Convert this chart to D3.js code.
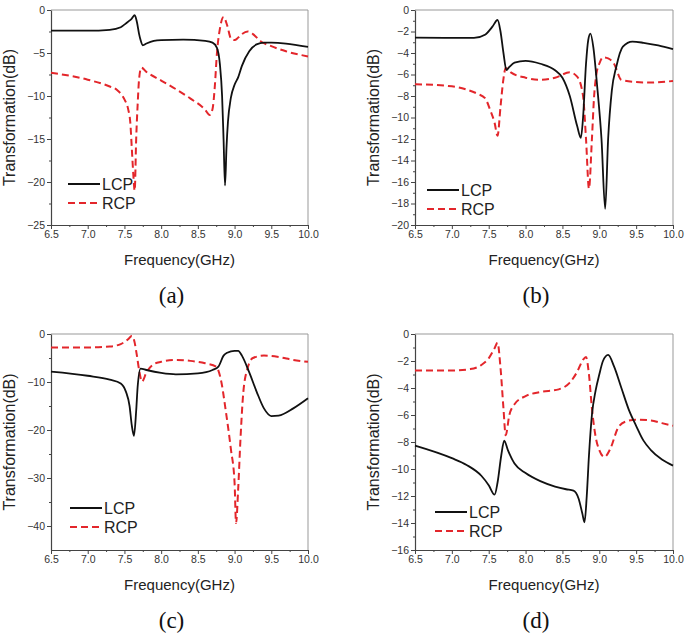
<!DOCTYPE html>
<html>
<head>
<meta charset="utf-8">
<script src="https://cdn.jsdelivr.net/npm/d3@7"></script>
<style>
  html, body { margin: 0; padding: 0; background: #fff; }
  svg { display: block; }
</style>
</head>
<body>
<svg id="chart" width="685" height="634"></svg>
<script>
// ---------- DATA ----------
const freqTicks = [6.5, 7.0, 7.5, 8.0, 8.5, 9.0, 9.5, 10.0];
const seriesNames = ["LCP", "RCP"];
const panelLabels = ["(a)", "(b)", "(c)", "(d)"];

// panel (a)
const aLCP = [[6.5,-2.4],[7.0,-2.4],[7.3,-2.3],[7.45,-2.0],[7.5,-1.7],[7.56,-1.3],[7.6,-1.0],[7.64,-0.6],[7.67,-1.4],[7.7,-2.8],[7.72,-3.5],[7.75,-4.1],[7.8,-3.9],[7.9,-3.6],[8.0,-3.5],[8.3,-3.45],[8.6,-3.6],[8.7,-3.8],[8.76,-4.4],[8.8,-6.3],[8.83,-10],[8.85,-15],[8.87,-20.4],[8.89,-16],[8.91,-13],[8.95,-10.2],[9.0,-8.7],[9.05,-7.8],[9.1,-6.5],[9.2,-4.8],[9.3,-4.0],[9.4,-3.8],[9.5,-3.8],[9.7,-3.9],[10.0,-4.3]];
const aRCP = [[6.5,-7.3],[7.0,-8.1],[7.3,-8.9],[7.4,-9.3],[7.5,-10.4],[7.55,-11.5],[7.58,-13.1],[7.6,-16],[7.62,-19],[7.64,-21],[7.66,-15],[7.68,-11],[7.7,-8],[7.73,-6.7],[7.8,-7.2],[8.0,-8.2],[8.2,-9.2],[8.4,-10.3],[8.6,-11.6],[8.66,-12.2],[8.7,-11.5],[8.73,-9],[8.76,-5],[8.8,-2.2],[8.85,-0.8],[8.9,-1.8],[8.95,-3.3],[9.0,-3.5],[9.05,-3.2],[9.1,-2.8],[9.18,-2.5],[9.25,-2.8],[9.35,-3.6],[9.5,-4.2],[9.7,-4.8],[10.0,-5.4]];

// panel (b)
const bLCP = [[6.5,-2.57],[7.0,-2.6],[7.3,-2.6],[7.45,-2.3],[7.55,-1.55],[7.62,-0.93],[7.66,-2.0],[7.7,-4.0],[7.74,-5.6],[7.78,-5.3],[7.85,-4.9],[8.0,-4.73],[8.2,-5.0],[8.4,-5.6],[8.5,-6.3],[8.6,-8.0],[8.7,-10.8],[8.75,-11.9],[8.78,-10],[8.82,-5],[8.85,-2.8],[8.88,-2.2],[8.92,-3.5],[8.97,-7],[9.03,-12],[9.08,-18.5],[9.12,-12],[9.17,-7.5],[9.23,-5.3],[9.32,-3.4],[9.45,-2.94],[9.6,-3.05],[9.8,-3.3],[10.0,-3.65]];
const bRCP = [[6.5,-6.9],[7.0,-7.1],[7.2,-7.4],[7.35,-7.8],[7.45,-8.2],[7.52,-9.3],[7.58,-10.5],[7.62,-11.7],[7.66,-9],[7.7,-6.4],[7.73,-5.4],[7.8,-5.8],[8.0,-6.3],[8.2,-6.5],[8.4,-6.3],[8.6,-5.8],[8.7,-6.2],[8.78,-8],[8.82,-12],[8.86,-16.6],[8.9,-12],[8.93,-8],[8.96,-6],[9.0,-5],[9.05,-4.4],[9.12,-4.5],[9.2,-5.0],[9.3,-6.5],[9.5,-6.7],[9.7,-6.75],[10.0,-6.6]];

// panel (c)
const cLCP = [[6.5,-7.85],[7.0,-8.7],[7.3,-9.5],[7.45,-10.3],[7.52,-12],[7.57,-15],[7.6,-19],[7.63,-21.2],[7.66,-16],[7.68,-11],[7.72,-7.2],[7.8,-7.5],[8.0,-8.1],[8.2,-8.4],[8.5,-8.2],[8.7,-7.5],[8.78,-6.8],[8.85,-4.5],[8.9,-3.9],[9.0,-3.5],[9.05,-3.5],[9.1,-4.5],[9.2,-8],[9.3,-12],[9.4,-15.5],[9.5,-17.1],[9.6,-17.0],[9.8,-15.5],[10.0,-13.4]];
const cRCP = [[6.5,-2.8],[7.0,-2.8],[7.3,-2.6],[7.45,-2.1],[7.55,-1.1],[7.6,-0.4],[7.63,-1.2],[7.67,-4.5],[7.7,-7.5],[7.74,-9.9],[7.8,-8],[7.9,-6.3],[8.0,-5.8],[8.2,-5.4],[8.4,-5.6],[8.6,-6.1],[8.75,-6.8],[8.82,-10],[8.88,-16],[8.95,-24],[9.0,-31],[9.02,-39.4],[9.05,-32],[9.08,-22],[9.12,-12],[9.18,-7],[9.25,-5],[9.4,-4.5],[9.6,-4.8],[9.8,-5.4],[10.0,-5.8]];

// panel (d)
const dLCP = [[6.5,-8.27],[7.0,-9.2],[7.2,-9.7],[7.4,-10.5],[7.5,-11.2],[7.58,-11.9],[7.62,-11],[7.67,-9],[7.71,-7.9],[7.76,-8.6],[7.85,-9.6],[8.0,-10.3],[8.2,-10.9],[8.4,-11.3],[8.55,-11.5],[8.65,-11.6],[8.72,-12.2],[8.77,-13.3],[8.8,-13.95],[8.83,-12],[8.86,-9],[8.9,-6],[8.95,-4.2],[9.0,-3],[9.05,-2],[9.12,-1.55],[9.2,-2.4],[9.3,-4],[9.4,-5.6],[9.5,-6.8],[9.6,-7.9],[9.7,-8.6],[9.85,-9.3],[10.0,-9.75]];
const dRCP = [[6.5,-2.7],[7.0,-2.7],[7.25,-2.6],[7.4,-2.3],[7.5,-1.8],[7.58,-1.05],[7.62,-0.65],[7.66,-2.5],[7.7,-5.5],[7.73,-7.5],[7.78,-6],[7.85,-5.2],[8.0,-4.6],[8.2,-4.3],[8.45,-4.1],[8.6,-3.6],[8.7,-2.8],[8.78,-1.9],[8.82,-1.7],[8.86,-3],[8.9,-5.5],[8.95,-7.6],[9.0,-8.6],[9.07,-9.1],[9.15,-8.5],[9.25,-7],[9.35,-6.5],[9.5,-6.35],[9.7,-6.4],[9.85,-6.6],[10.0,-6.8]];

const yTicksA = [0, -5, -10, -15, -20, -25];
const yTicksB = [0, -2, -4, -6, -8, -10, -12, -14, -16, -18, -20];
const yTicksC = [0, -10, -20, -30, -40];
const yTicksD = [0, -2, -4, -6, -8, -10, -12, -14, -16];

// ---------- LAYOUT ----------
const panels = [
  { lcp: aLCP, rcp: aRCP, yTicks: yTicksA, yMin: -25, minorStep: 2.5, label: panelLabels[0],
    x0: 51, x1: 308, y0: 10, y1: 225, leg: { lx0: 68, lx1: 100, ly: 184 } },
  { lcp: bLCP, rcp: bRCP, yTicks: yTicksB, yMin: -20, minorStep: 1, label: panelLabels[1],
    x0: 415, x1: 673, y0: 10, y1: 225, leg: { lx0: 427, lx1: 459, ly: 190 } },
  { lcp: cLCP, rcp: cRCP, yTicks: yTicksC, yMin: -45, minorStep: 5, label: panelLabels[2],
    x0: 51, x1: 308, y0: 334, y1: 550, leg: { lx0: 70, lx1: 102, ly: 508 } },
  { lcp: dLCP, rcp: dRCP, yTicks: yTicksD, yMin: -16, minorStep: 1, label: panelLabels[3],
    x0: 415, x1: 673, y0: 334, y1: 550, leg: { lx0: 435, lx1: 467, ly: 512 } }
];

const svg = d3.select("#chart");
const sansFont = "'Liberation Sans', Arial, sans-serif";
const serifFont = "'Liberation Serif', 'Times New Roman', serif";
const lcpColor = "#111";
const rcpColor = "#e3262b";

panels.forEach(p => {
  const x = d3.scaleLinear().domain([6.5, 10.0]).range([p.x0, p.x1]);
  const y = d3.scaleLinear().domain([p.yMin, 0]).range([p.y1, p.y0]);
  const g = svg.append("g");

  // frame top/right
  g.append("line").attr("x1", p.x0).attr("x2", p.x1).attr("y1", p.y0).attr("y2", p.y0)
    .attr("stroke", "#999").attr("stroke-width", 1);
  g.append("line").attr("x1", p.x1).attr("x2", p.x1).attr("y1", p.y0).attr("y2", p.y1)
    .attr("stroke", "#999").attr("stroke-width", 1);

  // minor ticks
  const xMinor = d3.range(6.75, 10.0, 0.5);
  const xAxisMinor = d3.axisBottom(x).tickValues(xMinor).tickSize(2).tickFormat("");
  g.append("g").attr("transform", `translate(0,${p.y1})`).call(xAxisMinor)
    .call(s => s.select(".domain").remove())
    .selectAll("line").attr("stroke", "#444");
  const yMinor = d3.range(-p.minorStep, p.yMin, -p.minorStep * 2).map(v => +v.toFixed(3));
  const yAxisMinor = d3.axisLeft(y).tickValues(yMinor).tickSize(2).tickFormat("");
  g.append("g").attr("transform", `translate(${p.x0},0)`).call(yAxisMinor)
    .call(s => s.select(".domain").remove())
    .selectAll("line").attr("stroke", "#444");

  // major axes
  const xAxis = d3.axisBottom(x).tickValues(freqTicks).tickSizeInner(4).tickSizeOuter(0)
    .tickPadding(2).tickFormat(d3.format(".1f"));
  const gx = g.append("g").attr("transform", `translate(0,${p.y1})`).call(xAxis);
  const yAxis = d3.axisLeft(y).tickValues(p.yTicks).tickSizeInner(4).tickSizeOuter(0)
    .tickPadding(2).tickFormat(d => d === 0 ? "0" : d3.format("d")(d));
  const gy = g.append("g").attr("transform", `translate(${p.x0},0)`).call(yAxis);
  [gx, gy].forEach(a => {
    a.select(".domain").attr("stroke", "#444").attr("stroke-width", 1.2);
    a.selectAll(".tick line").attr("stroke", "#444");
    a.selectAll("text").attr("font-family", sansFont).attr("font-size", 10.5).attr("fill", "#333");
  });

  // lines
  const line = d3.line().x(d => x(d[0])).y(d => y(d[1])).curve(d3.curveMonotoneX);
  g.append("path").datum(p.rcp).attr("d", line).attr("fill", "none")
    .attr("stroke", rcpColor).attr("stroke-width", 2).attr("stroke-dasharray", "7,4");
  g.append("path").datum(p.lcp).attr("d", line).attr("fill", "none")
    .attr("stroke", lcpColor).attr("stroke-width", 1.8);

  // legend
  const L = p.leg;
  [[seriesNames[0], lcpColor, null, L.ly], [seriesNames[1], rcpColor, "7,4", L.ly + 19]].forEach(([name, col, dash, ly]) => {
    const ln = g.append("line").attr("x1", L.lx0).attr("x2", L.lx1).attr("y1", ly).attr("y2", ly)
      .attr("stroke", col).attr("stroke-width", 2);
    if (dash) ln.attr("stroke-dasharray", dash);
    g.append("text").attr("x", L.lx1 + 2).attr("y", ly).attr("dy", "0.36em")
      .attr("font-family", sansFont).attr("font-size", 16).attr("fill", "#222").text(name);
  });

  // axis titles
  g.append("text").attr("x", (p.x0 + p.x1) / 2).attr("y", p.y1 + 40)
    .attr("text-anchor", "middle").attr("font-family", sansFont).attr("font-size", 15)
    .attr("fill", "#222").text("Frequency(GHz)");
  g.append("text").attr("transform", `translate(${p.x0 - 36},${(p.y0 + p.y1) / 2}) rotate(-90)`)
    .attr("text-anchor", "middle").attr("font-family", sansFont).attr("font-size", 16)
    .attr("fill", "#222").text("Transformation(dB)");

  // panel label
  g.append("text").attr("x", (p.x0 + p.x1) / 2 - 8).attr("y", p.y1 + 78)
    .attr("text-anchor", "middle").attr("font-family", serifFont).attr("font-size", 23)
    .attr("fill", "#111").text(p.label);
});
</script>
</body>
</html>
